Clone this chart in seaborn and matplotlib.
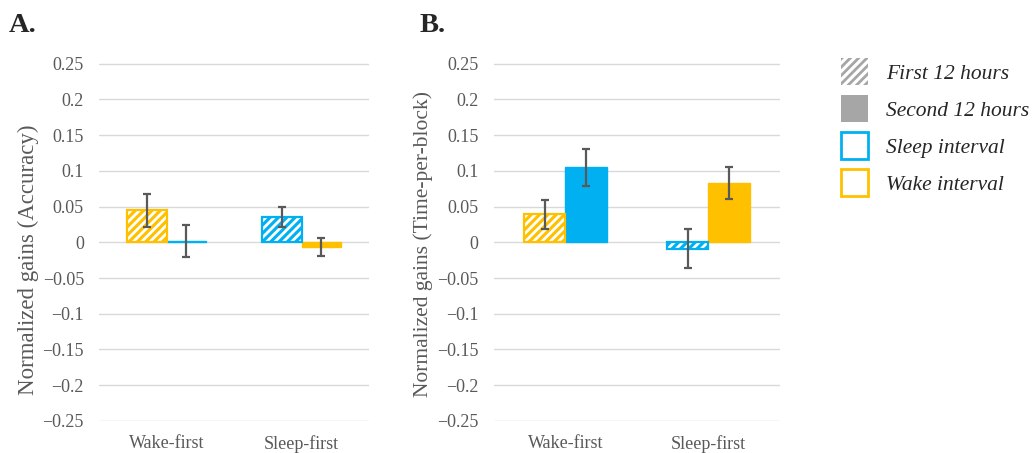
import numpy as np
import pandas as pd
import matplotlib
matplotlib.use("Agg")
import matplotlib.pyplot as plt
from matplotlib.patches import Patch, Rectangle
import seaborn as sns

# ---------------- data ----------------
categories = ["Wake-first", "Sleep-first"]
periods = ["First 12 hours", "Second 12 hours"]
intervals_first = ["Wake", "Sleep"]     # interval type of the first 12 h per group
intervals_second = ["Sleep", "Wake"]    # interval type of the second 12 h per group

acc_first = [0.045, 0.035]
acc_second = [0.002, -0.007]
acc_first_err = [0.023, 0.014]
acc_second_err = [0.022, 0.0125]

tpb_first = [0.039, -0.009]
tpb_second = [0.105, 0.083]
tpb_first_err = [0.020, 0.027]
tpb_second_err = [0.026, 0.022]

ytick_values = [0.25, 0.2, 0.15, 0.1, 0.05, 0, -0.05, -0.1, -0.15, -0.2, -0.25]
ytick_labels = ["0.25", "0.2", "0.15", "0.1", "0.05", "0",
                "\u22120.05", "\u22120.1", "\u22120.15", "\u22120.2", "\u22120.25"]

legend_labels = ["First 12 hours", "Second 12 hours", "Sleep interval", "Wake interval"]

# ---------------- style ----------------
sns.set_theme(style="white")
plt.rcParams["font.family"] = ["Liberation Serif", "DejaVu Serif"]
plt.rcParams["hatch.linewidth"] = 2.0

BLUE = "#00B0F0"
ORANGE = "#FFC000"
GRAY_TXT = "#595959"
COL = {"Sleep": BLUE, "Wake": ORANGE}

fig = plt.figure(figsize=(10.36, 4.53), dpi=100)
axA = fig.add_axes([0.0958, 0.0700, 0.2606, 0.7903])
axB = fig.add_axes([0.4768, 0.0700, 0.2761, 0.7903])


def panel(ax, first, second, ferr, serr, ylabel, label_xy, label_size):
    df = pd.DataFrame({
        "group": categories * 2,
        "period": [periods[0]] * len(categories) + [periods[1]] * len(categories),
        "value": list(first) + list(second),
    })
    sns.barplot(data=df, x="group", y="value", hue="period", order=categories,
                hue_order=periods, width=0.585, errorbar=None, legend=False,
                saturation=1, ax=ax, zorder=2)
    specs = [(first, ferr, intervals_first, True), (second, serr, intervals_second, False)]
    for cont, (vals, errs, itvs, hatched) in zip(ax.containers, specs):
        for bar, v, e, itv in zip(cont, vals, errs, itvs):
            col = COL[itv]
            bar.set_facecolor(col)
            if hatched:
                bar.set_edgecolor("white")
                bar.set_hatch("////")
                bar.set_linewidth(0)
                ax.add_patch(Rectangle((bar.get_x(), bar.get_y()), bar.get_width(),
                                       bar.get_height(), fill=False, edgecolor=col,
                                       lw=1.6, zorder=3))
            else:
                bar.set_edgecolor(col)
                bar.set_linewidth(1.0)
            ax.errorbar(bar.get_x() + bar.get_width() / 2, v, yerr=e, fmt="none",
                        ecolor=GRAY_TXT, elinewidth=1.6, capsize=3.0, capthick=1.6,
                        zorder=5)
    ax.set_xlim(-0.5, len(categories) - 0.5)
    ax.set_ylim(-0.2505, 0.2505)
    ax.set_yticks(ytick_values)
    ax.set_yticklabels(ytick_labels)
    ax.set_xlabel("")
    ax.set_ylabel(ylabel, fontsize=label_size, color=GRAY_TXT)
    ax.yaxis.set_label_coords(*label_xy)
    ax.grid(axis="y", color="#D9D9D9", lw=1.0)
    ax.grid(axis="x", visible=False)
    ax.set_axisbelow(True)
    for s in ax.spines.values():
        s.set_visible(False)
    ax.tick_params(axis="y", length=0, pad=11, labelsize=13, labelcolor=GRAY_TXT)
    ax.tick_params(axis="x", length=0, pad=10, labelsize=13, labelcolor=GRAY_TXT)
    ax.set_facecolor("white")


panel(axA, acc_first, acc_second, acc_first_err, acc_second_err,
      "Normalized gains (Accuracy)", (-0.224, 0.451), 16.5)
panel(axB, tpb_first, tpb_second, tpb_first_err, tpb_second_err,
      "Normalized gains (Time-per-block)", (-0.214, 0.494), 15.5)

fig.text(9 / 1036, 1 - 32 / 453, "A.", fontsize=20.5, fontweight="bold", ha="left", va="baseline")
fig.text(420 / 1036, 1 - 32 / 453, "B.", fontsize=20.5, fontweight="bold", ha="left", va="baseline")

handles = [
    Patch(facecolor="white", edgecolor="#A6A6A6", hatch="////", linewidth=0),
    Patch(facecolor="#A6A6A6", edgecolor="#A6A6A6", linewidth=0),
    Patch(facecolor="white", edgecolor=BLUE, linewidth=2.0),
    Patch(facecolor="white", edgecolor=ORANGE, linewidth=2.0),
]
fig.legend(handles, legend_labels, loc="upper left", bbox_to_anchor=(0.8115, 0.872),
           frameon=False, prop={"style": "italic", "size": 15.5},
           handlelength=1.256, handleheight=1.555, handletextpad=0.85,
           labelspacing=0.465, borderpad=0, borderaxespad=0)

fig.savefig("out.png", dpi=100, facecolor="white")
